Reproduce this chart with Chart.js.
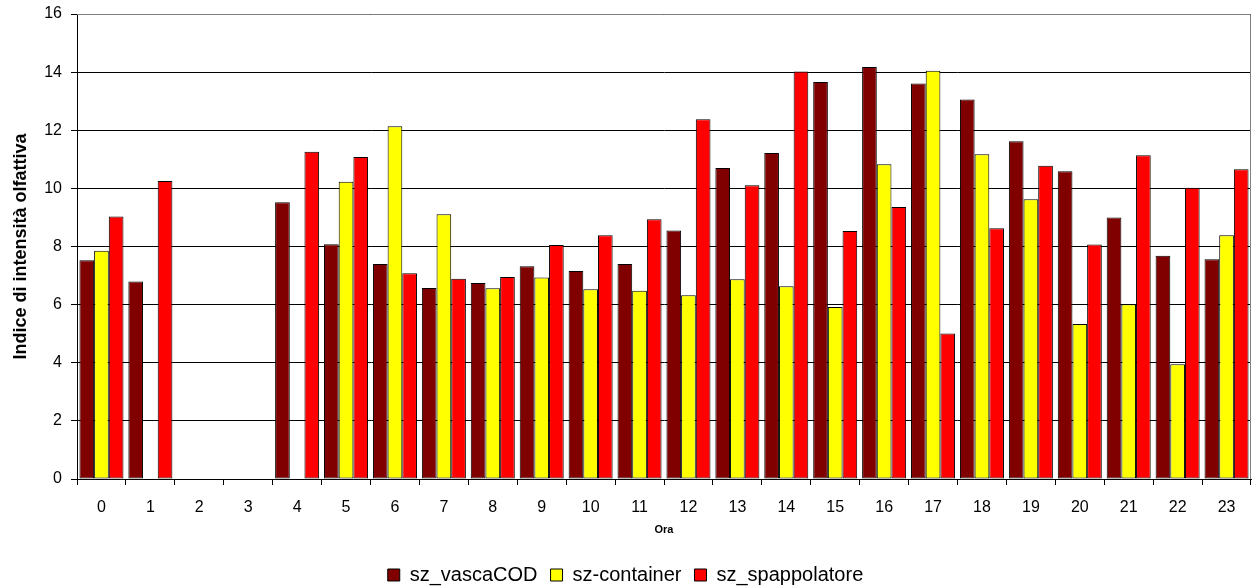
<!DOCTYPE html>
<html><head><meta charset="utf-8">
<script src="https://cdn.jsdelivr.net/npm/chart.js@4/dist/chart.umd.min.js"></script>
<style>html,body{margin:0;padding:0;background:#fff}#wrap{width:1255px;height:587px}</style>
</head><body><div id="wrap"><canvas id="c" width="1255" height="587"></canvas></div>
<script>
const categories = ['0','1','2','3','4','5','6','7','8','9','10','11','12','13','14','15','16','17','18','19','20','21','22','23'];
const vascaCOD = [7.53,6.80,null,null,9.52,8.08,7.40,6.57,6.74,7.32,7.16,7.40,8.55,10.70,11.22,13.66,14.18,13.61,13.06,11.62,10.59,9.00,7.68,7.56];
const container = [7.85,null,null,null,null,10.23,12.14,9.11,6.56,6.93,6.53,6.48,6.32,6.87,6.63,5.92,10.83,14.05,11.17,9.63,5.33,6.01,3.95,8.39];
const spappolatore = [9.03,10.25,null,null,11.26,11.08,7.08,6.89,6.95,8.05,8.39,8.94,12.38,10.11,14.02,8.53,9.36,5.01,8.63,10.78,8.07,11.14,10.02,10.66];
const seriesNames = ['sz_vascaCOD','sz-container','sz_spappolatore'];
const yTicks = [0,2,4,6,8,10,12,14,16];

const FONT = "'Liberation Sans', Arial, sans-serif";
const frame = {
  id:'frame',
  afterDraw(chart){
    const a = chart.chartArea, ctx = chart.ctx;
    ctx.save();
    ctx.strokeStyle = '#808080'; ctx.lineWidth = 1;
    ctx.beginPath();
    ctx.moveTo(a.left, a.top+0.5); ctx.lineTo(a.right-0.5, a.top+0.5); ctx.lineTo(a.right-0.5, a.bottom);
    ctx.stroke();
    ctx.restore();
  }
};
const mk = (label, data, color) => ({label, data, backgroundColor:color, borderColor:'#000', borderWidth:1, borderSkipped:false, barPercentage:1.0, categoryPercentage:0.9});
new Chart(document.getElementById('c'), {
  type:'bar',
  data:{labels:categories, datasets:[
    mk(seriesNames[0], vascaCOD, '#800000'),
    mk(seriesNames[1], container, '#ffff00'),
    mk(seriesNames[2], spappolatore, '#ff0000')
  ]},
  options:{
    responsive:false, animation:false,
    layout:{padding:{left:0,right:4,top:14,bottom:-8}},
    plugins:{
      legend:{position:'bottom', labels:{font:{family:FONT,size:20}, color:'#000', boxWidth:12, boxHeight:12, padding:13}},
      tooltip:{enabled:false}
    },
    scales:{
      x:{
        afterFit(ax){ ax.height = 73; ax.paddingLeft = 0; ax.paddingRight = 0; },
        grid:{offset:true, drawOnChartArea:false, drawTicks:true, tickLength:6, color:'#000'},
        border:{color:'#000', width:1},
        ticks:{font:{family:FONT,size:16}, color:'#000', padding:13, maxRotation:0},
        title:{display:true, text:'Ora', font:{family:FONT,size:11,weight:'bold'}, color:'#000', padding:{top:0,bottom:15}}
      },
      y:{
        min:0, max:16,
        afterFit(ax){ ax.width = 77; ax.paddingTop = 0; ax.paddingBottom = 0; },
        afterBuildTicks(ax){ ax.ticks = yTicks.map(v=>({value:v})); },
        grid:{color:'#000', tickLength:6, drawTicks:true},
        border:{color:'#000', width:1},
        ticks:{font:{family:FONT,size:16}, color:'#000', padding:9},
        title:{display:true, text:'Indice di intensità olfattiva', font:{family:FONT,size:18,weight:'bold'}, color:'#000', padding:{top:10,bottom:0}}
      }
    }
  },
  plugins:[frame]
});
</script>
</body></html>
